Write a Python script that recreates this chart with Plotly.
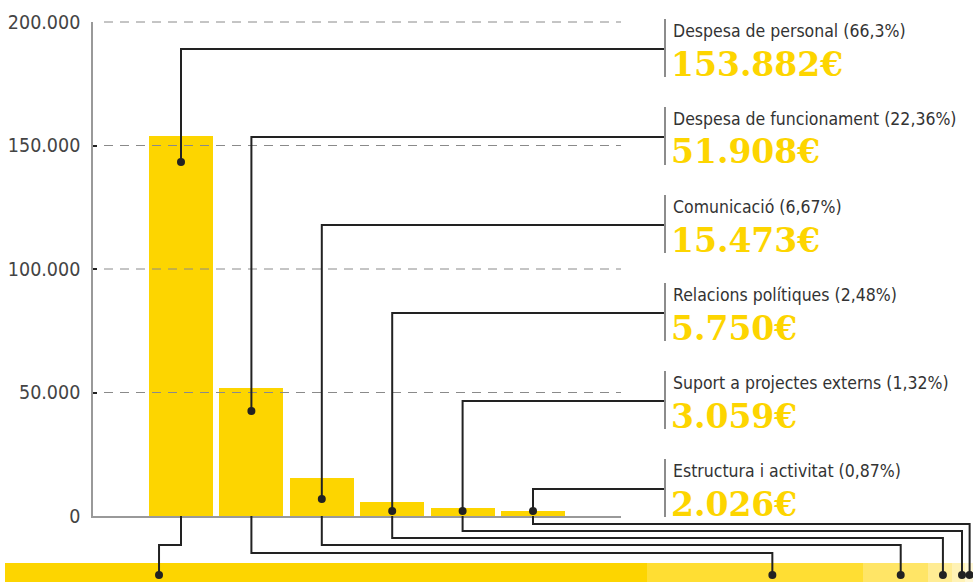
import plotly.graph_objects as go

# ---------------- data ----------------
categories = ["Despesa de personal", "Despesa de funcionament", "Comunicació",
              "Relacions polítiques", "Suport a projectes externs", "Estructura i activitat"]
amounts = [153882, 51908, 15473, 5750, 3059, 2026]
percent_labels = ["66,3%", "22,36%", "6,67%", "2,48%", "1,32%", "0,87%"]
value_labels = ["153.882€", "51.908€", "15.473€", "5.750€", "3.059€", "2.026€"]
y_tick_vals = [0, 50000, 100000, 150000, 200000]
y_tick_text = ["0", "50.000", "100.000", "150.000", "200.000"]

# ---------------- layout constants (pixels of the 973x582 canvas) ----------------
W, H = 973, 582
YELLOW = "#FDD500"
segment_colors = ["#FDD500", "#FFDE33", "#FFE566", "#FFEC94", "#FFF2B5", "#FFF7D4"]
INK = "#222222"
FONT_TXT = "DejaVu Sans Condensed, Liberation Sans Narrow, sans-serif"
FONT_NUM = "DejaVu Serif, Liberation Serif, serif"

x_dom = [93 / W, 621 / W]
x_rng = [-1.25, 6.25]
y_dom = [1 - 516 / H, 1 - 22 / H]
y_rng = [0, 200000]
x2_dom = [5 / W, 1.0]
y2_dom = [0.0, 1 - 563 / H]
y2_rng = [-0.5, 0.5]

dot_levels = [143300, 42500, 6900, 2000, 2000, 2000]       # where the bar dots sit
label_col_px = 665
first_label_px, label_step_px = 49, 88
lower_levels_px = [545, 553, 545, 538, 531, 524]
bottom_dot_frac = [0.24, 0.58, 0.58, 0.63, 0.80, 0.60]
bottom_dot_y = -0.13


def px(p):
    return p / W


def py(p):
    return 1 - p / H


def xp(v):
    return x_dom[0] + (v - x_rng[0]) / (x_rng[1] - x_rng[0]) * (x_dom[1] - x_dom[0])


def yp(v):
    return y_dom[0] + (v - y_rng[0]) / (y_rng[1] - y_rng[0]) * (y_dom[1] - y_dom[0])


total = sum(amounts)
x2_rng = [0, total]


def x2p(v):
    return x2_dom[0] + (v - x2_rng[0]) / (x2_rng[1] - x2_rng[0]) * (x2_dom[1] - x2_dom[0])


def y2p(v):
    return y2_dom[0] + (v - y2_rng[0]) / (y2_rng[1] - y2_rng[0]) * (y2_dom[1] - y2_dom[0])


idx = list(range(len(categories)))

fig = go.Figure()
fig.add_trace(go.Bar(x=idx, y=amounts, marker=dict(color=YELLOW, line=dict(width=0)),
                     width=0.91, xaxis="x", yaxis="y", hoverinfo="skip",
                     text=categories, textposition="none"))

# bottom proportional strip
cum = 0
bottom_dots = []
for i, a in enumerate(amounts):
    fig.add_trace(go.Bar(x=[a], y=[0], orientation="h", base=[cum], width=1,
                         marker=dict(color=segment_colors[i], line=dict(width=0)),
                         xaxis="x2", yaxis="y2", hoverinfo="skip"))
    bottom_dots.append(cum + bottom_dot_frac[i] * a)
    cum += a

shapes = []
line_style = dict(color=INK, width=2)

# dashed gridlines above bars
for v in y_tick_vals[1:]:
    shapes.append(dict(type="line", xref="paper", yref="paper", layer="above",
                       x0=px(104), x1=x_dom[1], y0=yp(v), y1=yp(v),
                       line=dict(color="#8a8a8a", width=1, dash="9px,7px")))

annotations = []
for i in idx:
    L = first_label_px + i * label_step_px
    xc = xp(i)
    # upper connector
    shapes.append(dict(type="path", xref="paper", yref="paper", layer="above",
                       path=f"M {xc} {yp(dot_levels[i])} L {xc} {py(L)} L {px(label_col_px)} {py(L)}",
                       line=line_style))
    # grey label bar
    shapes.append(dict(type="line", xref="paper", yref="paper", layer="above",
                       x0=px(label_col_px), x1=px(label_col_px), y0=py(L - 30), y1=py(L + 28),
                       line=dict(color="#8c8c8c", width=2)))
    # lower connector
    bx = x2p(bottom_dots[i])
    shapes.append(dict(type="path", xref="paper", yref="paper", layer="above",
                       path=f"M {xc} {yp(0)} L {xc} {py(lower_levels_px[i])} L {bx} {py(lower_levels_px[i])} L {bx} {y2p(bottom_dot_y)}",
                       line=line_style))
    annotations.append(dict(xref="paper", yref="paper", x=px(671), y=py(L - 18),
                            xanchor="left", yanchor="middle", showarrow=False,
                            text=f"{categories[i]} ({percent_labels[i]})",
                            font=dict(family=FONT_TXT, size=17.5, color="#333333")))
    annotations.append(dict(xref="paper", yref="paper", x=px(669), y=py(L + 15),
                            xanchor="left", yanchor="middle", showarrow=False,
                            text=f"<b>{value_labels[i]}</b>",
                            font=dict(family=FONT_NUM, size=33, color=YELLOW)))

# dots on bars and on strip
fig.add_trace(go.Scatter(x=idx, y=dot_levels, mode="markers", xaxis="x", yaxis="y",
                         marker=dict(color=INK, size=8), hoverinfo="skip", cliponaxis=False))
fig.add_trace(go.Scatter(x=bottom_dots, y=[bottom_dot_y] * len(bottom_dots), mode="markers",
                         xaxis="x2", yaxis="y2", marker=dict(color=INK, size=8),
                         hoverinfo="skip", cliponaxis=False))

fig.update_layout(
    width=W, height=H, autosize=False,
    margin=dict(l=0, r=0, t=0, b=0),
    paper_bgcolor="white", plot_bgcolor="rgba(0,0,0,0)",
    showlegend=False, barmode="overlay", bargap=0,
    xaxis=dict(domain=x_dom, range=x_rng, showgrid=False, zeroline=False,
               showticklabels=False, ticks="", showline=True, linecolor="#999999",
               linewidth=1.5, fixedrange=True),
    yaxis=dict(domain=y_dom, range=y_rng, showgrid=False, zeroline=False,
               tickvals=y_tick_vals, ticktext=y_tick_text, ticks="inside", ticklen=4,
               tickcolor=INK, tickwidth=1.5, showline=True, linecolor="#999999", linewidth=1.5,
               tickfont=dict(family=FONT_TXT, size=19.5, color="#444444"),
               ticklabelstandoff=7, automargin=False, fixedrange=True),
    xaxis2=dict(domain=x2_dom, range=x2_rng, anchor="y2", visible=False, fixedrange=True),
    yaxis2=dict(domain=y2_dom, range=y2_rng, anchor="x2", visible=False, fixedrange=True),
    shapes=shapes, annotations=annotations,
)

fig.write_html("out.html", config={"displayModeBar": False},
               post_script="document.body.style.margin='0';document.body.style.overflow='hidden';")
